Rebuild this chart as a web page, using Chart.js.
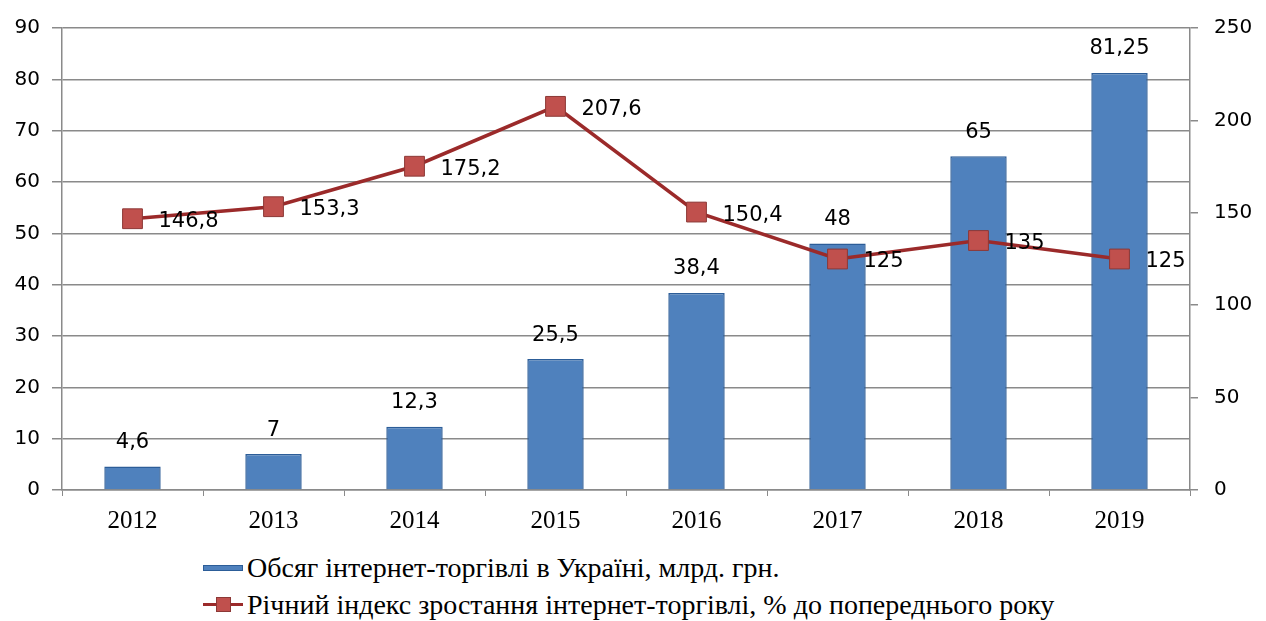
<!DOCTYPE html>
<html>
<head>
<meta charset="utf-8">
<script src="https://cdn.jsdelivr.net/npm/chart.js@4"></script>
<style>
    html, body { margin: 0; padding: 0; background: #fff; }
    #wrap { position: relative; width: 1266px; height: 621px; }
    #chartBox { position: absolute; left: 0; top: 0; width: 1266px; height: 540px; }
    .legend { position: absolute; left: 203px; font-family: "Liberation Serif", "Times New Roman", "DejaVu Serif", serif; font-size: 28px; color: #000; }
    .legend .row { display: flex; align-items: center; height: 37px; white-space: nowrap; }
    .legend .sw { position: relative; flex: none; width: 40px; height: 14px; margin-right: 4px; }
    .sw.bar span { position: absolute; left: 0; top: 4px; width: 40px; height: 6px; background: #4f81bd; border: 1px solid #2c5d98; box-sizing: border-box; }
    .sw.line i { position: absolute; left: 0; top: 5px; width: 40px; height: 3px; background: #9b2a2a; }
    .sw.line b { position: absolute; left: 13px; top: -1px; width: 15px; height: 15px; background: #c0504d; border: 1px solid #8c3836; box-sizing: border-box; }
</style>
</head>
<body>
<div id="wrap">
    <div id="chartBox"><canvas id="mainChart"></canvas></div>
    <div class="legend" style="top: 549px;">
        <div class="row"><div class="sw bar"><span></span></div><span id="lg0"></span></div>
        <div class="row"><div class="sw line"><i></i><b></b></div><span id="lg1"></span></div>
    </div>
</div>
<script>
// chart data
const years = ['2012', '2013', '2014', '2015', '2016', '2017', '2018', '2019'];
const volume = [4.6, 7, 12.3, 25.5, 38.4, 48, 65, 81.25];
const growthIndex = [146.8, 153.3, 175.2, 207.6, 150.4, 125, 135, 125];
const seriesNames = [
    'Обсяг інтернет-торгівлі в Україні, млрд. грн.',
    'Річний індекс зростання інтернет-торгівлі, % до попереднього року'
];
const leftTicks = { min: 0, max: 90, step: 10 };
const rightTicks = { min: 0, max: 250, step: 50 };

document.getElementById('lg0').textContent = seriesNames[0];
document.getElementById('lg1').textContent = seriesNames[1];

const fmt = v => String(v).replace('.', ',');
const gridGray = '#8a8a8a';
const sansFont = '"DejaVu Sans", sans-serif';

// draws the value labels (no datalabels plugin available offline)
const valueLabels = {
    id: 'valueLabels',
    afterDatasetsDraw(chart) {
        const ctx = chart.ctx;
        ctx.save();
        ctx.fillStyle = '#000';
        ctx.font = '21px ' + sansFont;
        ctx.textBaseline = 'middle';

        const bars = chart.getDatasetMeta(0).data;
        ctx.textAlign = 'center';
        bars.forEach((el, i) => {
            ctx.fillText(fmt(volume[i]), el.x, el.y - 24);
        });

        const pts = chart.getDatasetMeta(1).data;
        ctx.textAlign = 'left';
        pts.forEach((el, i) => {
            ctx.fillText(fmt(growthIndex[i]), el.x + 26, el.y + 3);
        });
        ctx.restore();
    }
};

new Chart(document.getElementById('mainChart'), {
    type: 'bar',
    data: {
        labels: years,
        datasets: [{
            type: 'bar',
            label: seriesNames[0],
            data: volume,
            yAxisID: 'y',
            backgroundColor: '#4f81bd',
            borderColor: '#2c5d98',
            borderWidth: 1.5,
            barPercentage: 0.4,
            categoryPercentage: 1,
            order: 2
        }, {
            type: 'line',
            label: seriesNames[1],
            data: growthIndex,
            yAxisID: 'y1',
            borderColor: '#9b2a2a',
            borderWidth: 3.5,
            pointStyle: 'rect',
            pointRadius: 14,
            pointBackgroundColor: '#c0504d',
            pointBorderColor: '#8c3836',
            pointBorderWidth: 1,
            tension: 0,
            order: 1
        }]
    },
    options: {
        responsive: true,
        maintainAspectRatio: false,
        animation: false,
        layout: { padding: { top: 19, left: 0, right: 0, bottom: 0 } },
        plugins: {
            legend: { display: false },
            tooltip: { enabled: false }
        },
        scales: {
            x: {
                offset: true,
                grid: { display: true, offset: true, drawOnChartArea: false, color: gridGray, tickLength: 6 },
                border: { color: gridGray, width: 1.5 },
                ticks: { color: '#000', padding: 10, font: { family: '"Liberation Serif", "Times New Roman", serif', size: 25 } },
                afterFit: s => { s.height = 50; }
            },
            y: {
                position: 'left',
                min: leftTicks.min,
                max: leftTicks.max,
                grid: { color: gridGray, lineWidth: 1.5, tickLength: 10 },
                border: { color: gridGray, width: 1.5 },
                ticks: { stepSize: leftTicks.step, color: '#000', padding: 12, font: { family: sansFont, size: 20 } },
                afterFit: s => { s.width = 62; }
            },
            y1: {
                position: 'right',
                min: rightTicks.min,
                max: rightTicks.max,
                grid: { drawOnChartArea: false, color: gridGray, lineWidth: 1.5, tickLength: 8 },
                border: { color: gridGray, width: 1.5 },
                ticks: { stepSize: rightTicks.step, color: '#000', padding: 16, font: { family: sansFont, size: 20 } },
                afterFit: s => { s.width = 76; }
            }
        }
    },
    plugins: [valueLabels]
});
</script>
</body>
</html>
